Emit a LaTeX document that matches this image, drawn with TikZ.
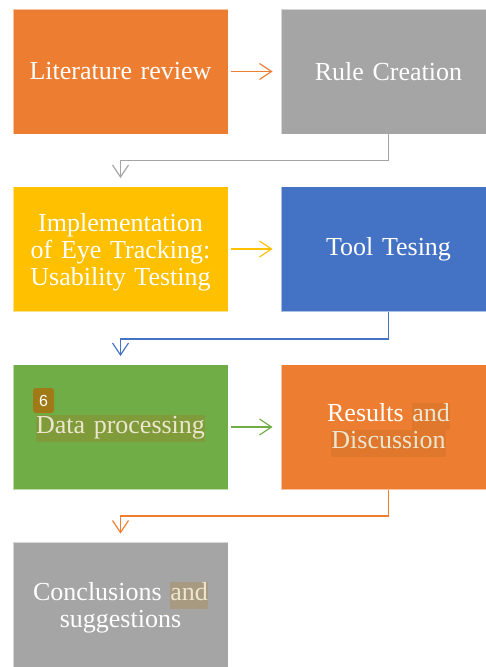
\documentclass[tikz,border=0pt]{standalone}
\usepackage{fontspec}
\setmainfont{Liberation Serif}
\newfontfamily\badgefont{Liberation Sans}
\usetikzlibrary{arrows.meta}
\definecolor{cOrange}{HTML}{ED7D31}
\definecolor{cGray}{HTML}{A5A5A5}
\definecolor{cYellow}{HTML}{FFC000}
\definecolor{cBlue}{HTML}{4472C4}
\definecolor{cGreen}{HTML}{70AD47}
\definecolor{hlGreen}{HTML}{7F9B3A}
\definecolor{hlOrange}{HTML}{DF772D}
\definecolor{hlGray}{HTML}{A89A80}
\definecolor{hlText}{HTML}{EDE6CF}
\definecolor{badgeBrown}{HTML}{A07A16}
\newcommand\hlbox[2]{{\setlength\fboxsep{0pt}\colorbox{#1}{\strut\textcolor{hlText}{#2}}}}
\begin{document}
\begin{tikzpicture}[x=1pt,y=-1pt,
  box/.style={minimum width=215pt, minimum height=125pt, inner sep=0pt,
    draw=white, draw opacity=0.55, line width=0.8pt},
  boxtext/.style={text width=205pt, align=center, inner sep=0pt,
    font=\fontsize{26}{27}\selectfont, text=white},
  conn/.style={line width=1.3pt, -{Straight Barb[length=12pt,width=16pt,line width=1.2pt]}},
  badge/.style={fill=badgeBrown, rounded corners=3pt, minimum width=21pt, minimum height=25pt,
    inner sep=0pt, text=white, font=\badgefont\fontsize{16}{16}\selectfont}
]
\useasboundingbox (0,0) rectangle (485,667);
\node[box, fill=cOrange, label={[boxtext]center:Literature review}] (lit) at (120.5,71.5) {};
\node[box, fill=cGray, label={[boxtext]center:Rule Creation}] (rule) at (388.5,71.5) {};
\node[box, fill=cYellow, label={[boxtext, yshift=-3pt]center:{Implementation\\of Eye Tracking:\\Usability Testing}}] (impl) at (120.5,249) {};
\node[box, fill=cBlue, label={[boxtext]center:Tool Tesing}] (tool) at (388.5,249) {};
\node[box, fill=cGreen, label={[boxtext, yshift=-1pt]center:{\hlbox{hlGreen}{Data processing}}}] (data) at (120.5,427) {};
\node[box, fill=cOrange, label={[boxtext, yshift=-3pt]center:{Results \hlbox{hlOrange}{and}\\\hlbox{hlOrange}{Discussion}}}] (res) at (388.5,427) {};
\node[box, fill=cGray, label={[boxtext, yshift=-3pt]center:{Conclusions \hlbox{hlGray}{and}\\suggestions}}] (conc) at (120.5,604.5) {};
\node[badge] (six) at (43.5,400.5) {6};

\draw[conn, cOrange, shorten <=3pt, shorten >=8pt] (lit.east) -- (rule.west);
\draw[conn, cYellow, shorten <=3pt, shorten >=8pt] (impl.east) -- (tool.west);
\draw[conn, cGreen, shorten <=3pt, shorten >=8pt] (data.east) -- (res.west);

\draw[conn, cGray, shorten >=8pt] (rule.south) -- ++(0,26) -| (impl.north);
\draw[conn, cBlue, shorten >=8pt] (tool.south) -- ++(0,27) -| (data.north);
\draw[conn, cOrange, shorten >=8pt] (res.south) -- ++(0,26) -| (conc.north);
\end{tikzpicture}
\end{document}
